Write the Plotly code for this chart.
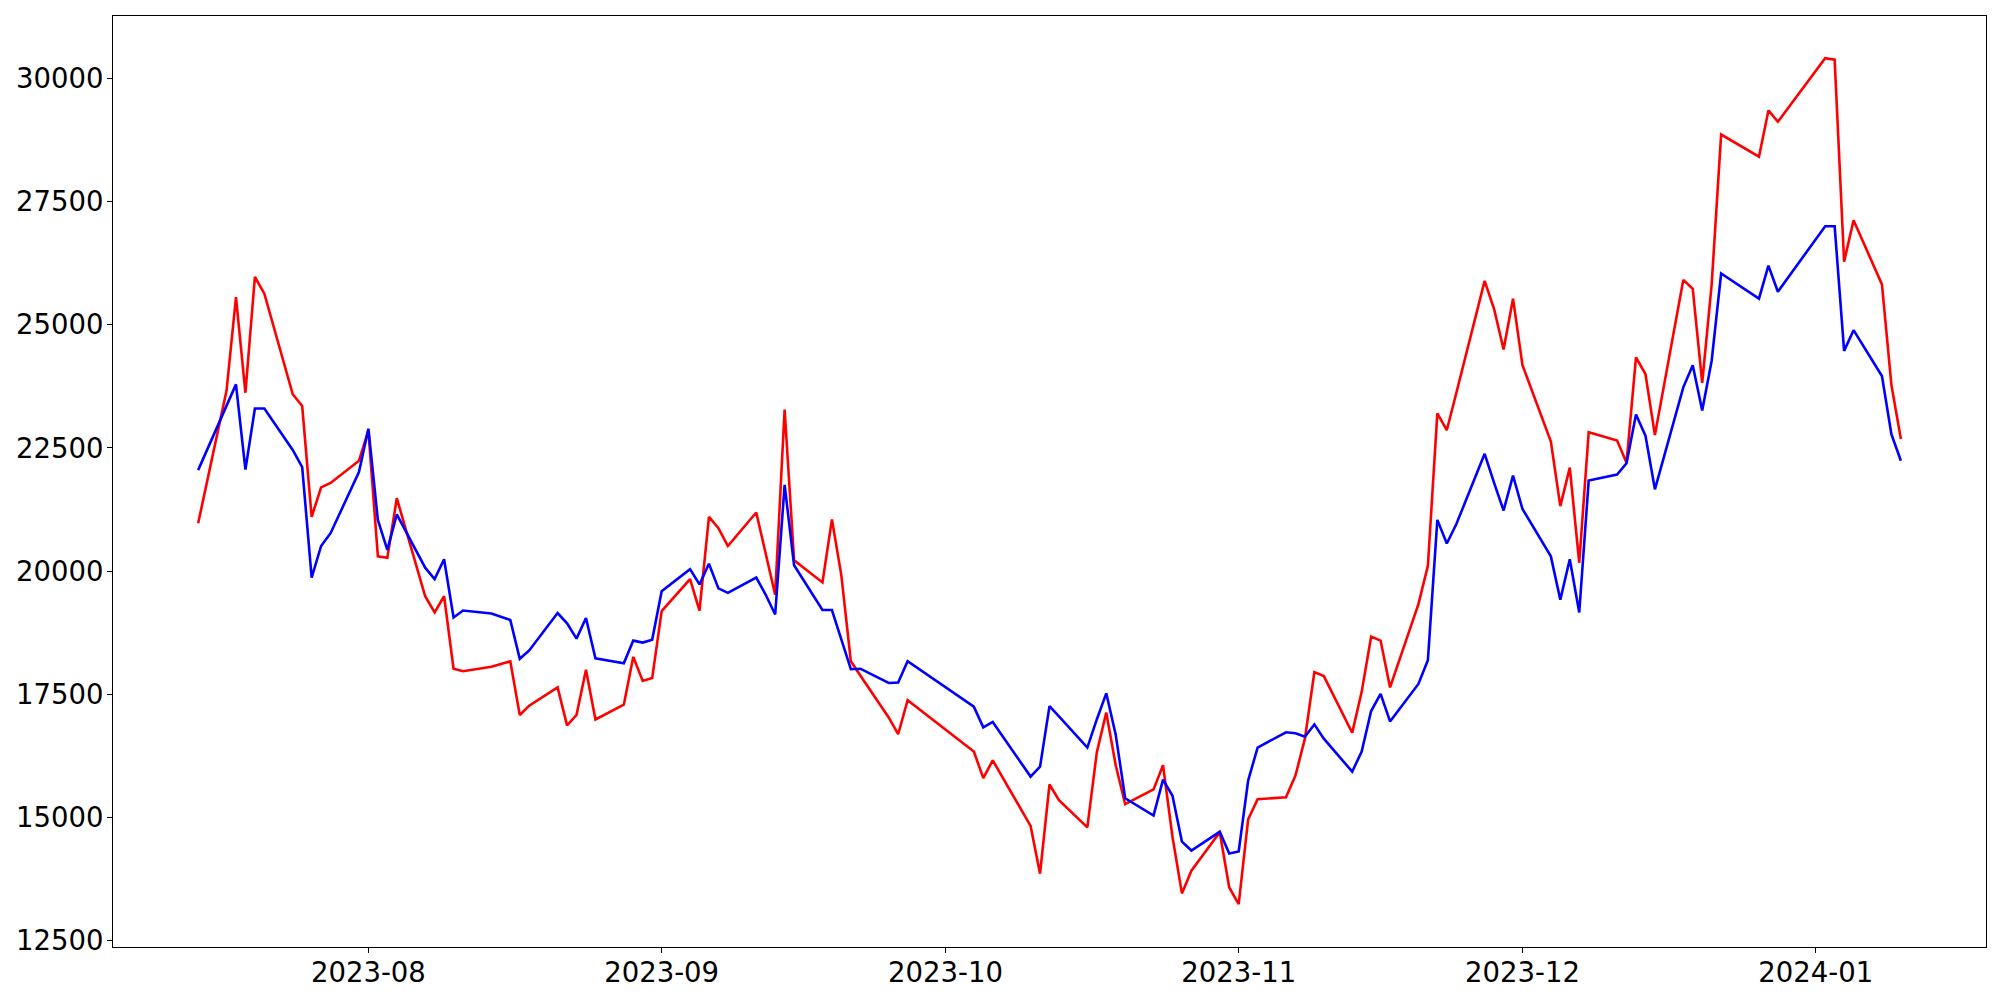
import plotly.graph_objects as go

dates = [
    "2023-07-14", "2023-07-17", "2023-07-18", "2023-07-19", "2023-07-20", "2023-07-21",
    "2023-07-24", "2023-07-25", "2023-07-26", "2023-07-27", "2023-07-28", "2023-07-31",
    "2023-08-01", "2023-08-02", "2023-08-03", "2023-08-04", "2023-08-07", "2023-08-08",
    "2023-08-09", "2023-08-10", "2023-08-11", "2023-08-14", "2023-08-16", "2023-08-17",
    "2023-08-18", "2023-08-21", "2023-08-22", "2023-08-23", "2023-08-24", "2023-08-25",
    "2023-08-28", "2023-08-29", "2023-08-30", "2023-08-31",
    "2023-09-01", "2023-09-04", "2023-09-05", "2023-09-06", "2023-09-07", "2023-09-08",
    "2023-09-11", "2023-09-12", "2023-09-13", "2023-09-14", "2023-09-15", "2023-09-18",
    "2023-09-19", "2023-09-20", "2023-09-21", "2023-09-22", "2023-09-25", "2023-09-26",
    "2023-09-27",
    "2023-10-04", "2023-10-05", "2023-10-06", "2023-10-10", "2023-10-11", "2023-10-12",
    "2023-10-13", "2023-10-16", "2023-10-17", "2023-10-18", "2023-10-19", "2023-10-20",
    "2023-10-23", "2023-10-24", "2023-10-25", "2023-10-26", "2023-10-27", "2023-10-30",
    "2023-10-31",
    "2023-11-01", "2023-11-02", "2023-11-03", "2023-11-06", "2023-11-07", "2023-11-08",
    "2023-11-09", "2023-11-10", "2023-11-13", "2023-11-14", "2023-11-15", "2023-11-16",
    "2023-11-17", "2023-11-20", "2023-11-21", "2023-11-22", "2023-11-23", "2023-11-24",
    "2023-11-27", "2023-11-28", "2023-11-29", "2023-11-30",
    "2023-12-01", "2023-12-04", "2023-12-05", "2023-12-06", "2023-12-07", "2023-12-08",
    "2023-12-11", "2023-12-12", "2023-12-13", "2023-12-14", "2023-12-15", "2023-12-18",
    "2023-12-19", "2023-12-20", "2023-12-21", "2023-12-22", "2023-12-26", "2023-12-27",
    "2023-12-28",
    "2024-01-02", "2024-01-03", "2024-01-04", "2024-01-05", "2024-01-08", "2024-01-09",
    "2024-01-10",
]

red_values = [
    20970, 23660, 25560, 23620, 25970, 25630, 23590, 23350, 21100, 21700, 21790, 22240,
    22850, 20300, 20270, 21480, 19490, 19160, 19490, 18020, 17970, 18060, 18170, 17080,
    17270, 17640, 16870, 17080, 18000, 16990, 17290, 18260, 17770, 17830,
    19190, 19840, 19200, 21100, 20870, 20510, 21190, 20380, 19520, 23280, 20220, 19770,
    21050, 19910, 18170, 17880, 17030, 16690, 17380,
    16340, 15800, 16160, 14830, 13860, 15670, 15350, 14800, 16320, 17130, 16060, 15270,
    15570, 16060, 14610, 13460, 13920, 14700, 13580,
    13240, 14960, 15370, 15410, 15850, 16600, 17950, 17870, 16720, 17550, 18670, 18590,
    17640, 19330, 20110, 23200, 22860, 23610, 25890, 25320, 24500, 25530,
    24180, 22630, 21320, 22100, 20170, 22820, 22650, 22200, 24340, 24000, 22760, 25910,
    25730, 23820, 25820, 28860, 28410, 29350, 29120,
    30410, 30380, 26280, 27120, 25820, 23780, 22680,
]

blue_values = [
    22050, 23350, 23790, 22060, 23300, 23300, 22460, 22110, 19870, 20510, 20770, 22010,
    22890, 21040, 20430, 21150, 20070, 19840, 20240, 19060, 19200, 19140, 19010, 18220,
    18390, 19150, 18940, 18630, 19050, 18230, 18130, 18590, 18550, 18610,
    19590, 20040, 19730, 20150, 19650, 19560, 19870, 19520, 19120, 21750, 20120, 19210,
    19210, 18610, 18010, 18020, 17730, 17740, 18170,
    17250, 16830, 16940, 15830, 16030, 17260, 17050, 16420, 16990, 17520, 16680, 15390,
    15040, 15770, 15440, 14510, 14330, 14710, 14270,
    14310, 15750, 16420, 16730, 16710, 16640, 16890, 16600, 15930, 16340, 17160, 17510,
    16950, 17710, 18190, 21040, 20560, 20950, 22380, 21790, 21230, 21940,
    21260, 20300, 19420, 20240, 19160, 21840, 21960, 22190, 23180, 22750, 21660, 23730,
    24180, 23260, 24270, 26040, 25530, 26200, 25670,
    27000, 27000, 24470, 24890, 23960, 22780, 22240,
]

y_ticks = [12500, 15000, 17500, 20000, 22500, 25000, 27500, 30000]
x_ticks = ["2023-08-01", "2023-09-01", "2023-10-01", "2023-11-01", "2023-12-01", "2024-01-01"]
x_tick_labels = ["2023-08", "2023-09", "2023-10", "2023-11", "2023-12", "2024-01"]

fig = go.Figure()
fig.add_trace(go.Scatter(x=dates, y=red_values, mode="lines",
                         line=dict(color="#ff0000", width=2.6), showlegend=False))
fig.add_trace(go.Scatter(x=dates, y=blue_values, mode="lines",
                         line=dict(color="#0000ff", width=2.6), showlegend=False))

font = dict(family="DejaVu Sans", size=27.5, color="black")

# the page body adds an 8 px offset; sizes/margins compensate for it
fig.update_layout(
    width=1984, height=984,
    margin=dict(l=105, r=6, t=8, b=45),
    paper_bgcolor="white", plot_bgcolor="white",
    font=font,
    xaxis=dict(
        type="date",
        range=["2023-07-05", "2024-01-19"],
        tickvals=x_ticks, ticktext=x_tick_labels,
        showgrid=False, zeroline=False,
        showline=True, linecolor="black", linewidth=1.1, mirror=True,
        ticks="outside", ticklen=5, tickwidth=1.1, tickcolor="black",
        tickfont=font, automargin=False, ticklabelstandoff=-4,
    ),
    yaxis=dict(
        range=[12372, 31266],
        tickvals=y_ticks, ticktext=[str(v) for v in y_ticks],
        showgrid=False, zeroline=False,
        showline=True, linecolor="black", linewidth=1.1, mirror=True,
        ticks="outside", ticklen=5, tickwidth=1.1, tickcolor="black",
        tickfont=font, automargin=False, ticklabelstandoff=-2,
    ),
)

fig.write_html("out.html")
